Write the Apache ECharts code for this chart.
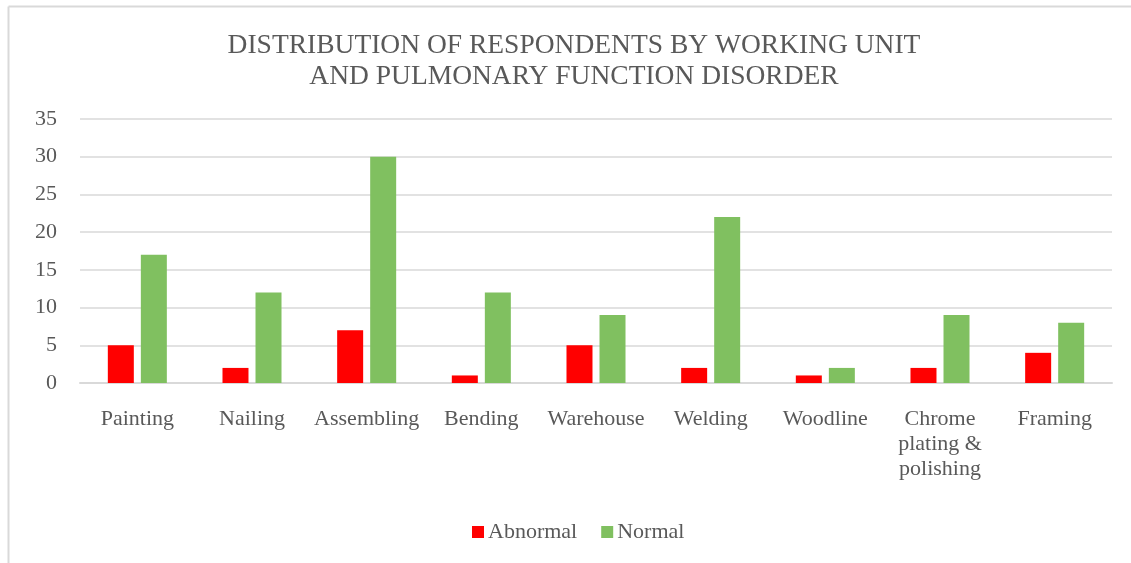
<!DOCTYPE html>
<html>
<head>
<meta charset="utf-8">
<script src="https://cdn.jsdelivr.net/npm/echarts@6/dist/echarts.min.js"></script>
<style>
html,body{margin:0;padding:0;background:#fff;}
#c{width:1131px;height:563px;}
</style>
</head>
<body>
<div id="c"></div>
<script>
var categories = ['Painting','Nailing','Assembling','Bending','Warehouse','Welding','Woodline','Chrome plating & polishing','Framing'];
var abnormal = [5,2,7,1,5,2,1,2,4];
var normal = [17,12,30,12,9,22,2,9,8];
var seriesNames = ['Abnormal','Normal'];
var titleText = 'DISTRIBUTION OF RESPONDENTS BY WORKING UNIT\nAND PULMONARY FUNCTION DISORDER';

var font = '"Liberation Serif","Times New Roman",serif';
var chart = echarts.init(document.getElementById('c'), null, {renderer:'canvas'});
chart.setOption({
  backgroundColor:'#fff',
  animation:false,
  title:{
    text:titleText,
    left:569, top:25, textAlign:'center',
    textStyle:{fontFamily:font, fontSize:27.5, fontWeight:'normal', color:'#595959', lineHeight:31}
  },
  graphic:[
    {type:'line', shape:{x1:8.5,y1:6.5,x2:1131,y2:6.5}, style:{stroke:'#d9d9d9', lineWidth:2}},
    {type:'line', shape:{x1:8.5,y1:6.5,x2:8.5,y2:563}, style:{stroke:'#d9d9d9', lineWidth:2}}
  ],
  legend:{
    data:seriesNames,
    top:516, left:467,
    itemWidth:12, itemHeight:12, itemGap:24,
    icon:'rect',
    textStyle:{fontFamily:font, fontSize:22, color:'#595959', padding:[0,0,0,-1]}
  },
  grid:{left:80, right:19, top:119, bottom:180, containLabel:false},
  xAxis:{
    type:'category',
    data:categories,
    axisLine:{lineStyle:{color:'#d9d9d9', width:2}},
    axisTick:{show:false},
    axisLabel:{
      fontFamily:font, fontSize:22, color:'#595959', margin:24, lineHeight:25, interval:0,
      formatter:function(v){ return v === 'Chrome plating & polishing' ? 'Chrome\nplating &\npolishing' : v; }
    }
  },
  yAxis:{
    type:'value', min:0, max:35, interval:5,
    axisLine:{show:false}, axisTick:{show:false},
    splitLine:{lineStyle:{color:'#d9d9d9', width:1.5}},
    axisLabel:{fontFamily:font, fontSize:22, color:'#595959', margin:23}
  },
  series:[
    {name:seriesNames[0], type:'bar', data:abnormal, barWidth:26, barGap:'27%', itemStyle:{color:'#ff0000'}},
    {name:seriesNames[1], type:'bar', data:normal, barWidth:26, itemStyle:{color:'#80c060'}}
  ]
});
</script>
</body>
</html>
